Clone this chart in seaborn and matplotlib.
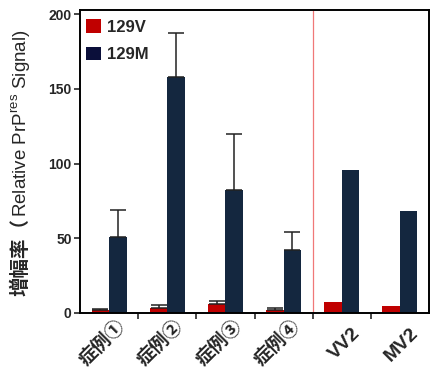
import matplotlib
matplotlib.use("Agg")
import matplotlib.pyplot as plt
import matplotlib.transforms as mtransforms
import seaborn as sns
import pandas as pd
import numpy as np
from matplotlib.patches import Patch

categories = ["症例①", "症例②", "症例③", "症例④", "VV2", "MV2"]
v129_mean = [2.0, 3.6, 6.2, 2.2, 7.6, 4.5]
v129_err = [1.0, 1.6, 1.5, 1.0, 0.0, 0.0]
m129_mean = [51, 158, 82, 42, 95.5, 68]
m129_err = [18, 29, 38, 12, 0.0, 0.0]
series = ["129V", "129M"]
colors = ["#C00000", "#14273F"]

sns.set_style("white")
plt.rcParams['font.family'] = ['Liberation Sans', 'Noto Sans CJK SC', 'DejaVu Sans']

df = pd.DataFrame({
    "cat": categories * 2,
    "series": [series[0]] * 6 + [series[1]] * 6,
    "val": v129_mean + m129_mean,
})

fig = plt.figure(figsize=(4.32, 3.69), dpi=100)
ax = fig.add_axes([80/432, 1-313/369, 349/432, 303/369])

sns.barplot(data=df, x="cat", y="val", hue="series", hue_order=series,
            palette=colors, width=0.6, ax=ax, legend=False, saturation=1,
            linewidth=0)

errs = [v129_err, m129_err]
for cont, e, m in zip(ax.containers, errs, [v129_mean, m129_mean]):
    xs = [p.get_x() + p.get_width()/2 for p in cont.patches]
    ee = np.array(e)
    mask = ee > 0
    ax.errorbar(np.array(xs)[mask], np.array(m)[mask],
                yerr=[np.zeros(mask.sum()), ee[mask]],
                fmt='none', ecolor='#222222', elinewidth=1.1, capsize=5.5, capthick=1.1)

ax.axvline(3.5, color="#F07878", lw=0.9, zorder=0)
ax.set_ylim(0, 202.7)
ax.set_xlim(-0.5, 5.5)
ax.set_yticks([0, 50, 100, 150, 200])
ax.set_xlabel("")
ax.set_ylabel("")
for s in ax.spines.values():
    s.set_color("black")
    s.set_linewidth(1.4)

ax.tick_params(axis='y', which='major', direction='out', length=4, width=1.2,
               labelsize=10, pad=2, left=True)
for lbl in ax.get_yticklabels():
    lbl.set_fontweight('bold')
ax.set_xticks(range(len(categories)))
ax.set_xticklabels(categories, rotation=45, ha='right', rotation_mode='anchor',
                   fontsize=14, fontweight='bold')
ax.tick_params(axis='x', which='major', length=0, pad=5)
for lbl in ax.get_xticklabels():
    if lbl.get_text().startswith("症"):
        lbl.set_fontsize(13.5)
        off = mtransforms.ScaledTranslation(7/100, 3/100, fig.dpi_scale_trans)
    else:
        off = mtransforms.ScaledTranslation(10/100, -5/100, fig.dpi_scale_trans)
    lbl.set_transform(lbl.get_transform() + off)
ax.set_xticks(np.arange(0.5, 5.5, 1.0), minor=True)
ax.tick_params(axis='x', which='minor', direction='out', length=4, width=1.2, bottom=True)

handles = [Patch(facecolor=c, edgecolor='none') for c in ["#C00000", "#0B0F3A"]]
leg = ax.legend(handles, series, loc='upper left', frameon=False,
                prop={'weight': 'bold', 'size': 12}, handlelength=0.9,
                handleheight=0.9, handletextpad=0.4, labelspacing=0.72,
                borderpad=0.2, borderaxespad=0.15, bbox_to_anchor=(0.0, 0.99))

fig.text(21/432, 1-296/369, "增幅率（", rotation=90, ha='center', va='bottom',
         fontsize=14, fontweight='bold', family=['Noto Sans CJK SC'])
fig.text(21/432, 1-217/369, "Relative PrP$^{\\mathregular{res}}$ Signal)", rotation=90,
         ha='center', va='bottom', fontsize=13.5, family=['Liberation Sans'])

fig.savefig("out.png", dpi=100)
